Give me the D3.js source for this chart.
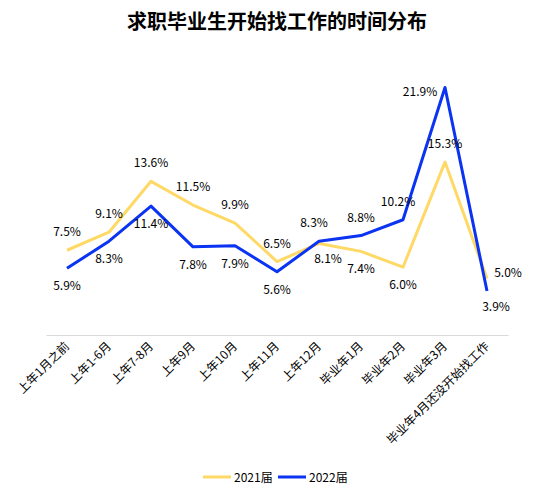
<!DOCTYPE html>
<html lang="zh">
    <head>
        <meta charset="utf-8">
        <title>求职毕业生开始找工作的时间分布</title>
        <script type="text/javascript" src="https://cdn.jsdelivr.net/npm/d3@7/dist/d3.min.js"></script>
        <style>
            body { margin: 0; background: #fff; }
            text { font-family: "Noto Sans CJK SC", "Noto Sans", sans-serif; fill: #000; }
        </style>
    </head>
    <body>
        <script type="text/javascript">
            // data
            var categories = ["上年1月之前", "上年1-6月", "上年7-8月", "上年9月", "上年10月", "上年11月",
                              "上年12月", "毕业年1月", "毕业年2月", "毕业年3月", "毕业年4月还没开始找工作"];
            var series2021 = [7.5, 9.1, 13.6, 11.5, 9.9, 6.5, 8.1, 7.4, 6.0, 15.3, 5.0];
            var series2022 = [5.9, 8.3, 11.4, 7.8, 7.9, 5.6, 8.3, 8.8, 10.2, 21.9, 3.9];
            var seriesNames = ["2021届", "2022届"];
            // where each data label sits relative to its point
            var place2021 = ["up", "up", "up", "up", "up", "up", "downR", "down", "down", "up", "right"];
            var place2022 = ["down", "down", "down", "down", "down", "down", "upL", "up", "upL", "left", "downR"];

            var svgWidth = 554;
            var svgHeight = 498;
            var colors = ["#FFD966", "#0A33F2"];

            var svg = d3.select("body")
                        .append("svg")
                        .attr("width", svgWidth)
                        .attr("height", svgHeight);

            //title
            svg.append("text")
                .attr("x", 277)
                .attr("y", 29)
                .attr("font-size", "20px")
                .attr("font-weight", "bold")
                .attr("text-anchor", "middle")
                .text("求职毕业生开始找工作的时间分布");

            var xScale = d3.scaleBand()
                           .domain(categories)
                           .range([46, 508]);

            var yScale = d3.scaleLinear()
                           .domain([0, 25])
                           .range([335, 52.5]);

            var xAxis = d3.axisBottom(xScale).tickSize(0).tickPadding(0);

            var X = svg.append("g")
                       .attr("transform", "translate(0,335)")
                       .call(xAxis);
            X.select(".domain").attr("stroke", "#d9d9d9");
            X.selectAll("text")
                .attr("font-size", "12px")
                .attr("text-anchor", "end")
                .attr("dy", 0)
                .attr("transform", "translate(3,12) rotate(-45)");

            var line = d3.line()
                         .x(function(d, i) { return xScale(categories[i]) + xScale.bandwidth() / 2; })
                         .y(function(d) { return yScale(d); });

            var allSeries = [series2021, series2022];
            var places = [place2021, place2022];

            allSeries.forEach(function(s, k) {
                svg.append("path")
                    .datum(s)
                    .attr("fill", "none")
                    .attr("stroke", colors[k])
                    .attr("stroke-width", 3)
                    .attr("stroke-linejoin", "round")
                    .attr("d", line);
            });

            var offsets = {
                up: [0, -14], down: [0, 22], left: [-25, 8], right: [21, -2],
                upL: [-5, -14], downR: [9, 20]
            };

            allSeries.forEach(function(s, k) {
                svg.append("g")
                    .selectAll("text")
                    .data(s)
                    .enter()
                    .append("text")
                    .attr("font-size", "12px")
                    .attr("text-anchor", "middle")
                    .attr("x", function(d, i) {
                        return xScale(categories[i]) + xScale.bandwidth() / 2 + offsets[places[k][i]][0];
                    })
                    .attr("y", function(d, i) {
                        return yScale(d) + offsets[places[k][i]][1];
                    })
                    .text(function(d) { return d.toFixed(1) + "%"; });
            });

            //legend
            var legend = svg.append("g").attr("transform", "translate(203,477)");
            seriesNames.forEach(function(name, k) {
                var g = legend.append("g").attr("transform", "translate(" + (k * 75) + ",0)");
                g.append("line")
                    .attr("x1", 0).attr("x2", 28)
                    .attr("y1", 0).attr("y2", 0)
                    .attr("stroke", colors[k])
                    .attr("stroke-width", 3);
                g.append("text")
                    .attr("x", 31)
                    .attr("y", 4.5)
                    .attr("font-size", "12px")
                    .text(name);
            });
        </script>
    </body>
</html>
